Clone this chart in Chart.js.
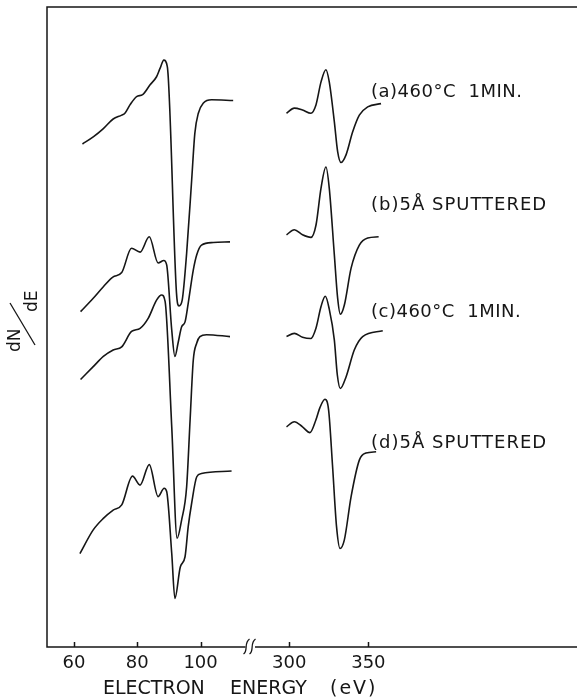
<!DOCTYPE html>
<html>
<head>
<meta charset="utf-8">
<script src="https://cdn.jsdelivr.net/npm/chart.js@4.4.0/dist/chart.umd.min.js"></script>
<style>
  html, body { margin: 0; padding: 0; background: #fff; }
  #wrap { width: 577px; height: 700px; }
</style>
</head>
<body>
<div id="wrap"><canvas id="chart" width="577" height="700"></canvas></div>
<script>
// Auger spectra, dN/dE in arbitrary units (each trace keeps its own offset)
// low-energy window (eV)
const aEnergyLow = [62.7, 66.1, 69.3, 72.4, 75.1, 76.1, 77.7, 79.8, 81.7, 84.0, 86.1, 87.2, 88.4, 89.5, 92.4, 93.2, 94.2, 95.6, 97.2, 98.2, 99.3, 100.9, 103.5, 110.3];
const aSignalLow = [78.6, 79.7, 81.0, 82.5, 83.1, 83.4, 84.7, 86.0, 86.3, 87.8, 89.1, 90.4, 91.7, 90.7, 55.3, 53.3, 54.2, 61.5, 73.0, 80.3, 83.4, 85.0, 85.5, 85.4];
const bEnergyLow = [62.1, 66.1, 69.3, 72.3, 75.1, 78.2, 80.9, 83.8, 86.6, 88.4, 89.3, 90.9, 91.9, 92.9, 94.0, 95.1, 96.1, 97.7, 98.8, 100.3, 104.0, 109.3];
const bSignalLow = [52.4, 54.5, 56.3, 57.8, 58.5, 62.3, 61.7, 64.1, 60.0, 60.4, 59.7, 49.5, 45.4, 47.5, 50.0, 50.8, 53.7, 58.9, 61.3, 62.8, 63.2, 63.3];
const cEnergyLow = [62.1, 66.1, 69.3, 72.4, 75.1, 78.2, 80.9, 83.5, 86.1, 87.7, 88.8, 90.9, 92.6, 94.0, 95.6, 96.7, 97.7, 98.8, 99.8, 101.9, 109.3];
const cSignalLow = [41.8, 43.8, 45.4, 46.4, 46.9, 49.3, 49.8, 51.4, 54.2, 55.0, 54.0, 34.4, 17.0, 19.8, 25.0, 35.5, 44.8, 47.5, 48.5, 48.8, 48.5];
const dEnergyLow = [61.9, 66.1, 69.3, 72.4, 75.1, 78.5, 80.9, 83.8, 86.6, 88.5, 89.3, 90.9, 91.9, 93.6, 95.1, 96.1, 97.2, 98.8, 100.3, 109.8];
const dSignalLow = [14.6, 18.3, 20.1, 21.4, 22.2, 26.7, 25.3, 28.5, 23.5, 24.8, 24.3, 14.6, 7.6, 12.5, 14.1, 18.8, 22.5, 26.6, 27.1, 27.5];
// high-energy window (eV)
const aEnergyHigh = [298.3, 303.2, 308.4, 313.7, 316.9, 320.1, 323.2, 325.3, 328.5, 330.6, 332.7, 335.9, 340.1, 344.3, 349.6, 358.0];
const aSignalHigh = [83.4, 84.2, 83.9, 83.4, 84.7, 88.3, 90.2, 88.3, 82.1, 77.4, 75.7, 76.9, 80.5, 83.1, 84.4, 84.9];
const bEnergyHigh = [298.3, 303.2, 308.4, 313.7, 316.9, 320.1, 323.2, 325.3, 328.5, 330.6, 332.3, 334.8, 339.1, 344.3, 349.6, 356.5];
const bSignalHigh = [64.4, 65.2, 64.4, 64.0, 65.9, 71.7, 75.0, 71.7, 61.3, 54.5, 52.0, 53.4, 59.2, 62.8, 63.9, 64.1];
const cEnergyHigh = [298.3, 303.2, 308.4, 313.7, 316.9, 320.1, 322.8, 325.3, 328.5, 330.4, 332.3, 335.9, 341.1, 346.4, 359.1];
const cSignalHigh = [48.5, 49.0, 48.4, 48.2, 49.8, 53.2, 54.8, 52.8, 48.0, 42.5, 40.4, 42.2, 46.4, 48.5, 49.4];
const dEnergyHigh = [298.3, 303.2, 308.4, 313.1, 316.9, 319.4, 322.6, 324.9, 327.4, 329.9, 332.1, 334.8, 339.1, 344.3, 348.5, 354.9];
const dSignalHigh = [34.4, 35.2, 34.4, 33.5, 35.5, 37.4, 38.7, 37.0, 28.2, 18.8, 15.4, 16.7, 23.5, 29.2, 30.3, 30.5];

const tickEnergies = [60, 80, 100, 300, 350];
const traceLabels = ['(a)460°C  1MIN.', '(b)5Å SPUTTERED', '(c)460°C  1MIN.', '(d)5Å SPUTTERED'];

// broken axis: high window squeezed to half scale after the gap
function toAxis(ev) { return ev < 200 ? ev : 128 + (ev - 300) / 2; }
function fromAxis(u) { return u < 115 ? u : 300 + (u - 128) * 2; }

function trace(eLow, sLow, eHigh, sHigh) {
  const pts = eLow.map((e, i) => ({ x: toAxis(e), y: sLow[i] }));
  pts.push({ x: 118, y: null });
  return pts.concat(eHigh.map((e, i) => ({ x: toAxis(e), y: sHigh[i] })));
}

const INK = '#161616';

const frame = {
  id: 'frame',
  afterDraw(chart) {
    const { ctx, chartArea: a, scales: { x } } = chart;
    ctx.save();
    ctx.strokeStyle = INK;
    ctx.lineWidth = 1.5;
    ctx.beginPath();
    ctx.moveTo(chart.width, a.top);
    ctx.lineTo(a.left, a.top);
    ctx.lineTo(a.left, a.bottom);
    const gapL = x.getPixelForValue(114.2), gapR = x.getPixelForValue(117.2);
    ctx.lineTo(gapL, a.bottom);
    ctx.moveTo(gapR, a.bottom);
    ctx.lineTo(chart.width, a.bottom);
    tickEnergies.forEach(e => {
      const px = Math.round(x.getPixelForValue(toAxis(e))) + 0.5;
      ctx.moveTo(px, a.bottom);
      ctx.lineTo(px, a.bottom - 5);
    });
    ctx.stroke();

    // break marks
    ctx.lineWidth = 1.3;
    [gapL + 1, gapL + 7].forEach(bx => {
      ctx.beginPath();
      ctx.moveTo(bx - 3, a.bottom + 7);
      ctx.bezierCurveTo(bx + 2, a.bottom + 4, bx - 3, a.bottom - 4, bx + 3, a.bottom - 8);
      ctx.stroke();
    });

    // dN/dE
    ctx.fillStyle = INK;
    ctx.font = '17px "DejaVu Sans"';
    ctx.save();
    ctx.rotate(-Math.PI / 2);
    ctx.fillText('dN', -352, 20);
    ctx.fillText('dE', -312, 37);
    ctx.restore();
    ctx.lineWidth = 1.3;
    ctx.beginPath();
    ctx.moveTo(10, 303);
    ctx.lineTo(35, 345);
    ctx.stroke();

    // trace labels
    ctx.font = '18px "DejaVu Sans"';
    const labelBase = [97, 210, 317, 448];
    traceLabels.forEach((t, i) => {
      ctx.letterSpacing = i % 2 ? '1px' : '0.5px';
      ctx.fillText(t, 371, labelBase[i]);
    });

    // axis title
    ctx.font = '19px "DejaVu Sans"';
    ctx.letterSpacing = '0px';
    ctx.fillText('ELECTRON', 103, 694);
    ctx.fillText('ENERGY', 230, 694);
    ctx.letterSpacing = '2px';
    ctx.fillText('(eV)', 330, 694);
    ctx.restore();
  }
};

const style = { borderColor: INK, borderWidth: 1.6, pointRadius: 0, cubicInterpolationMode: 'monotone', spanGaps: false, fill: false };

new Chart(document.getElementById('chart'), {
  type: 'line',
  data: {
    datasets: [
      { label: traceLabels[0], data: trace(aEnergyLow, aSignalLow, aEnergyHigh, aSignalHigh), ...style },
      { label: traceLabels[1], data: trace(bEnergyLow, bSignalLow, bEnergyHigh, bSignalHigh), ...style },
      { label: traceLabels[2], data: trace(cEnergyLow, cSignalLow, cEnergyHigh, cSignalHigh), ...style },
      { label: traceLabels[3], data: trace(dEnergyLow, dSignalLow, dEnergyHigh, dSignalHigh), ...style }
    ]
  },
  options: {
    responsive: false,
    animation: false,
    devicePixelRatio: 1,
    layout: { padding: { left: 47, top: 7, right: 0, bottom: 0 } },
    plugins: { legend: { display: false }, tooltip: { enabled: false } },
    scales: {
      x: {
        type: 'linear',
        min: 51.5,
        max: 218.9,
        afterBuildTicks: s => { s.ticks = tickEnergies.map(e => ({ value: toAxis(e) })); },
        afterFit: s => { s.height = 53; },
        grid: { display: false, drawTicks: false },
        border: { display: false },
        ticks: {
          color: INK,
          font: { family: 'DejaVu Sans', size: 18 },
          padding: 6,
          maxRotation: 0,
          autoSkip: false,
          callback: v => String(Math.round(fromAxis(v)))
        }
      },
      y: { display: false, min: 0, max: 100 }
    }
  },
  plugins: [frame]
});
</script>
</body>
</html>
